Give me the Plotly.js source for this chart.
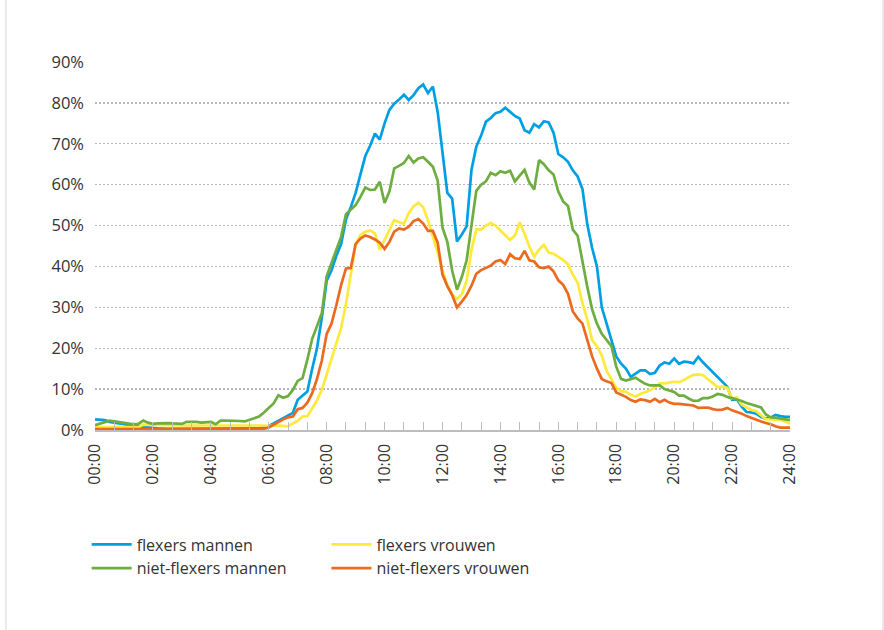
<!DOCTYPE html>
<html>
<head>
<meta charset="utf-8">
<script src="https://cdn.plot.ly/plotly-3.0.1.min.js"></script>
<style>
  html, body { margin: 0; padding: 0; background: #ffffff; }
  #chart { width: 884px; height: 630px; }
</style>
</head>
<body>
<div id="chart"></div>
<script>
// Tick labels (every 2 hours) on the time axis
const tickLabels = ['00:00','02:00','04:00','06:00','08:00','10:00','12:00','14:00','16:00','18:00','20:00','22:00','24:00'];
const tickHours = [0,2,4,6,8,10,12,14,16,18,20,22,24];

// Share (%) per 10-minute interval, 00:00 .. 24:00 (145 values each)
const flexersMannen = [
  2.6,2.5,2.4,2.0,1.8,1.6,1.4,1.2,1.0,0.9,0.8,0.6,
  0.5,0.4,0.3,0.3,0.3,0.3,0.3,0.3,0.3,0.3,0.3,0.3,
  0.3,0.3,0.3,0.3,0.3,0.3,0.3,0.3,0.3,0.3,0.4,0.6,
  1.0,1.6,2.3,3.0,3.6,4.2,7.4,8.4,9.4,15.0,20.0,27.5,
  36.5,39.0,42.6,45.5,51.5,54.5,58.0,62.5,67.0,69.5,72.5,71.0,
  75.0,78.3,79.8,80.8,82.0,80.7,81.9,83.6,84.5,82.4,84.0,77.8,
  68.0,58.0,56.6,46.1,47.8,49.8,63.6,69.3,72.0,75.4,76.3,77.5,
  77.8,78.8,77.8,76.8,76.2,73.3,72.7,74.8,74.0,75.5,75.2,72.7,
  67.5,66.7,65.6,63.5,62.0,58.9,50.3,44.5,40.0,30.0,26.0,22.0,
  18.0,16.2,15.0,13.0,13.8,14.6,14.6,13.7,14.0,15.8,16.5,16.2,
  17.5,16.2,16.7,16.6,16.3,17.9,16.5,15.3,14.2,13.0,11.9,10.6,
  7.4,7.5,5.7,4.4,4.3,4.0,3.2,2.8,3.0,3.7,3.4,3.2,
  3.2
];
const flexersVrouwen = [
  0.7,0.7,0.7,0.7,0.7,0.7,0.7,0.7,0.7,0.7,1.3,1.3,
  1.2,1.2,1.2,1.2,1.1,1.1,1.2,1.2,1.2,1.2,1.2,1.2,
  1.2,1.2,1.2,1.2,1.2,1.2,1.2,1.1,1.1,1.1,1.1,1.1,
  1.0,1.1,1.1,1.0,0.9,1.6,2.2,3.3,3.4,5.3,7.3,9.8,
  13.5,17.0,21.0,25.0,30.8,38.3,45.2,47.7,48.5,48.8,48.1,44.1,
  46.5,48.9,51.3,50.8,50.4,53.0,54.7,55.6,54.5,51.2,47.5,43.4,
  39.0,35.4,33.2,32.0,33.2,36.5,44.0,49.1,49.0,50.0,50.6,50.0,
  48.8,47.6,46.5,47.5,50.8,48.0,44.8,42.4,44.1,45.3,43.4,43.1,
  42.4,41.6,40.5,38.0,36.0,31.0,27.0,22.0,20.5,18.2,14.5,12.5,
  10.3,9.5,9.4,8.6,8.2,8.8,9.2,9.7,10.4,11.4,11.4,11.6,
  11.8,11.7,12.2,12.9,13.5,13.6,13.4,12.4,11.5,10.5,10.6,10.3,
  7.7,8.0,6.2,5.5,4.9,4.6,3.5,2.6,2.6,2.6,2.5,2.1,
  1.5
];
const nietFlexersMannen = [
  1.2,1.6,2.0,2.3,2.1,1.9,1.7,1.5,1.4,1.5,2.3,1.8,
  1.5,1.6,1.7,1.7,1.6,1.5,1.5,2.0,2.0,2.0,1.8,1.9,
  2.0,1.4,2.3,2.3,2.3,2.2,2.2,2.1,2.5,2.9,3.3,4.3,
  5.3,6.5,8.5,7.9,8.3,9.8,12.0,12.7,17.2,22.3,25.4,28.6,
  37.6,40.7,43.7,47.3,52.8,53.8,55.0,57.0,59.3,58.7,58.8,60.7,
  55.5,58.3,64.0,64.6,65.3,67.0,65.4,66.4,66.7,65.6,64.4,61.0,
  49.5,46.0,39.0,34.3,37.4,41.5,50.0,58.5,60.0,60.8,62.9,62.3,
  63.3,62.9,63.4,60.8,62.2,63.6,60.5,58.8,66.0,65.0,63.5,62.5,
  58.3,55.9,54.8,49.0,47.5,41.0,35.0,29.5,26.0,23.5,22.0,20.5,
  15.5,12.5,12.1,12.4,12.8,12.0,11.3,10.9,10.9,10.9,10.0,9.6,
  9.3,8.4,8.4,7.7,7.1,7.2,7.8,7.8,8.2,8.8,8.6,8.1,
  7.8,7.5,7.1,6.6,6.2,5.8,5.5,3.8,3.1,3.0,2.8,2.6,
  2.4
];
const nietFlexersVrouwen = [
  0.2,0.2,0.2,0.2,0.2,0.2,0.2,0.2,0.2,0.2,0.2,0.2,
  0.2,0.2,0.2,0.2,0.2,0.2,0.2,0.2,0.2,0.2,0.2,0.2,
  0.2,0.2,0.2,0.2,0.2,0.2,0.2,0.2,0.2,0.2,0.2,0.3,
  0.6,1.3,2.0,2.6,3.1,3.3,5.1,5.4,6.7,9.0,12.5,17.0,
  23.5,26.0,30.5,35.5,39.5,39.6,45.5,46.8,47.6,47.2,46.6,45.8,
  44.3,46.0,48.5,49.3,49.0,49.7,51.1,51.6,50.5,48.7,48.7,45.8,
  38.0,35.2,33.0,30.0,31.4,33.0,35.3,38.2,39.1,39.6,40.2,41.2,
  41.6,40.6,43.0,42.0,41.8,43.8,41.5,41.2,39.8,39.6,40.0,38.8,
  36.6,35.5,33.3,29.0,27.3,26.0,22.0,18.0,15.0,12.5,11.9,11.5,
  9.2,8.7,8.1,7.3,6.9,7.5,7.3,6.9,7.6,6.8,7.4,6.7,
  6.4,6.4,6.3,6.1,6.0,5.4,5.4,5.5,5.1,4.9,5.0,5.4,
  4.8,4.4,4.0,3.4,2.9,2.6,2.1,1.7,1.4,0.9,0.6,0.6,
  0.6
];

const seriesNames = ['flexers mannen','flexers vrouwen','niet-flexers mannen','niet-flexers vrouwen'];
const seriesData = [flexersMannen, flexersVrouwen, nietFlexersMannen, nietFlexersVrouwen];
const seriesColors = ['#009FE3','#FFE93B','#6EAD3F','#EB6A1F'];
const seriesLegend = ['legend','legend2','legend','legend2'];

// x position of each 10-minute category, in hours
const hoursOf = arr => arr.map((_, i) => i / 6);

const traces = seriesData.map((vals, k) => ({
  type: 'scatter',
  mode: 'lines',
  name: seriesNames[k],
  x: hoursOf(vals),
  y: vals,
  line: { color: seriesColors[k], width: 2.7 },
  legend: seriesLegend[k],
  hoverinfo: 'skip'
}));

const fontFamily = '"Open Sans", "Noto Sans", sans-serif';

const legendBase = {
  orientation: 'v',
  xanchor: 'left',
  y: -0.265, yanchor: 'top',
  font: { family: fontFamily, size: 16, color: '#333333' },
  bgcolor: 'rgba(0,0,0,0)',
  tracegroupgap: 0,
  traceorder: 'normal',
  itemwidth: 40
};

const layout = {
  width: 884,
  height: 630,
  margin: { l: 95, r: 94, t: 62, b: 200 },
  paper_bgcolor: '#ffffff',
  plot_bgcolor: '#ffffff',
  font: { family: fontFamily, size: 15, color: '#333333' },
  showlegend: true,
  xaxis: {
    type: 'linear',
    range: [0, 24],
    tickmode: 'array',
    tickvals: tickHours,
    ticktext: tickLabels,
    tickangle: -90,
    ticks: 'inside',
    ticklen: 8,
    tickcolor: '#bdbdbd',
    tickwidth: 1,
    tickfont: { family: fontFamily, size: 16, color: '#333333' },
    ticklabelstandoff: 6,
    minor: { tick0: 0, dtick: 2/3, ticks: 'inside', ticklen: 8, tickcolor: '#bdbdbd', tickwidth: 1, showgrid: false },
    showgrid: false,
    zeroline: false,
    showline: true,
    linecolor: '#bdbdbd',
    linewidth: 1.5,
    fixedrange: true
  },
  yaxis: {
    range: [0, 90],
    tickmode: 'linear',
    tick0: 0,
    dtick: 10,
    ticksuffix: '%',
    ticks: '',
    tickfont: { family: fontFamily, size: 16.5, color: '#333333' },
    ticklabelstandoff: 10,
    showgrid: true,
    gridcolor: '#b8b8b8',
    griddash: '1.5px,2.5px',
    gridwidth: 1.3,
    zeroline: false,
    showline: false,
    fixedrange: true
  },
  legend: Object.assign({}, legendBase, { x: -0.012 }),
  legend2: Object.assign({}, legendBase, { x: 0.333 }),
  shapes: [
    { type: 'line', xref: 'paper', yref: 'paper', x0: -0.1281, x1: -0.1281, y0: -0.545, y1: 1.17, line: { color: '#d6d6d6', width: 1 } },
    { type: 'line', xref: 'paper', yref: 'paper', x0: 1.1339, x1: 1.1339, y0: -0.545, y1: 1.17, line: { color: '#d6d6d6', width: 1 } }
  ]
};

Plotly.newPlot('chart', traces, layout, { displayModeBar: false, staticPlot: true });
</script>
</body>
</html>
